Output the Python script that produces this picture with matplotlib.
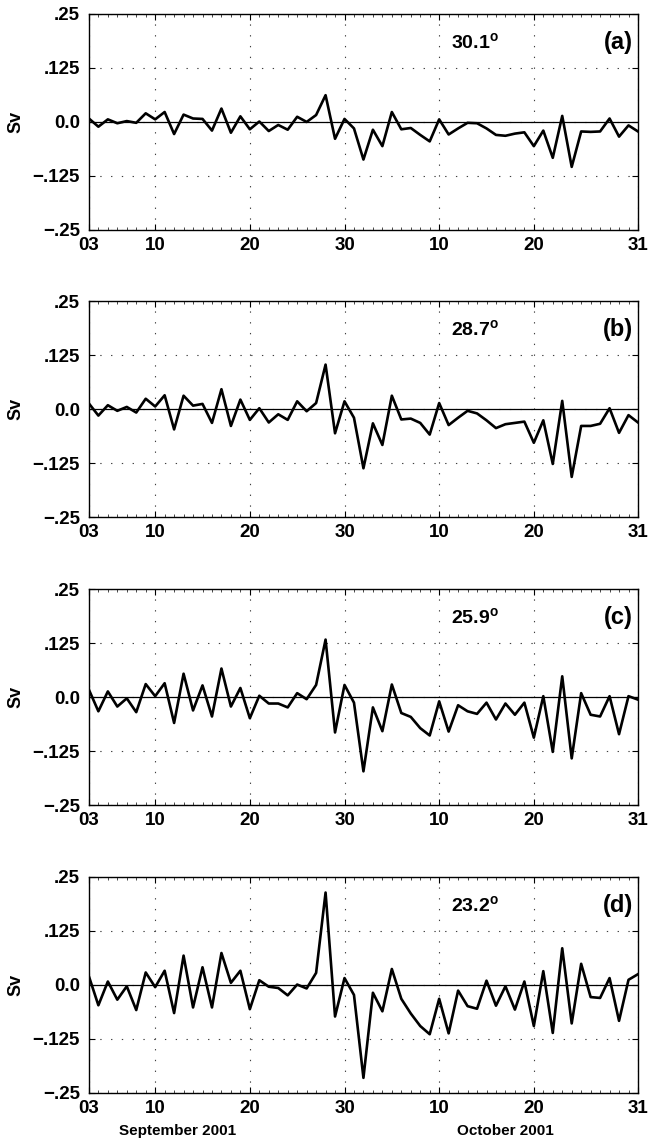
import numpy as np
import matplotlib
matplotlib.use('Agg')
import matplotlib.pyplot as plt
import matplotlib.dates as mdates

# Daily transport, 3 Sep - 31 Oct 2001
days = np.arange('2001-09-03', '2001-11-01', dtype='datetime64[D]')

sv_a = [0.008, -0.011, 0.006, -0.003, 0.002, -0.002, 0.020, 0.006, 0.023, -0.028,
        0.017, 0.008, 0.007, -0.020, 0.031, -0.025, 0.013, -0.017, 0.001, -0.021,
        -0.007, -0.018, 0.012, 0.000, 0.016, 0.062, -0.039, 0.007, -0.015, -0.087,
        -0.018, -0.056, 0.023, -0.017, -0.014, -0.030, -0.045, 0.006, -0.029, -0.015,
        -0.002, -0.003, -0.015, -0.030, -0.032, -0.027, -0.024, -0.056, -0.020, -0.083,
        0.014, -0.104, -0.022, -0.023, -0.022, 0.008, -0.034, -0.008, -0.022]
sv_b = [0.013, -0.015, 0.009, -0.004, 0.005, -0.008, 0.024, 0.006, 0.032, -0.047,
        0.031, 0.008, 0.012, -0.032, 0.046, -0.039, 0.022, -0.025, 0.002, -0.031,
        -0.012, -0.025, 0.018, -0.005, 0.014, 0.103, -0.056, 0.018, -0.020, -0.137,
        -0.033, -0.083, 0.031, -0.024, -0.022, -0.032, -0.059, 0.014, -0.037, -0.020,
        -0.004, -0.010, -0.026, -0.044, -0.035, -0.032, -0.029, -0.078, -0.026, -0.127,
        0.019, -0.157, -0.039, -0.039, -0.034, 0.002, -0.055, -0.014, -0.031]
sv_c = [0.017, -0.033, 0.013, -0.022, -0.003, -0.035, 0.030, 0.002, 0.032, -0.060,
        0.054, -0.031, 0.027, -0.045, 0.066, -0.022, 0.021, -0.049, 0.003, -0.015,
        -0.015, -0.024, 0.009, -0.005, 0.028, 0.133, -0.082, 0.028, -0.013, -0.172,
        -0.024, -0.079, 0.029, -0.037, -0.046, -0.072, -0.089, -0.010, -0.080, -0.019,
        -0.033, -0.039, -0.013, -0.052, -0.015, -0.041, -0.013, -0.094, 0.002, -0.127,
        0.048, -0.142, 0.009, -0.041, -0.045, 0.002, -0.086, 0.002, -0.006]
sv_d = [0.020, -0.047, 0.008, -0.034, -0.003, -0.058, 0.029, -0.005, 0.033, -0.065,
        0.068, -0.052, 0.041, -0.052, 0.074, 0.005, 0.033, -0.056, 0.011, -0.004,
        -0.007, -0.024, 0.001, -0.008, 0.028, 0.214, -0.073, 0.016, -0.023, -0.215,
        -0.018, -0.061, 0.037, -0.032, -0.066, -0.095, -0.114, -0.032, -0.112, -0.013,
        -0.049, -0.055, 0.010, -0.048, -0.003, -0.057, 0.008, -0.095, 0.032, -0.111,
        0.085, -0.089, 0.049, -0.028, -0.030, 0.016, -0.083, 0.012, 0.025]

series = [sv_a, sv_b, sv_c, sv_d]
latitudes = ['30.1', '28.7', '25.9', '23.2']
panel_tags = ['(a)', '(b)', '(c)', '(d)']

y_ticks = [-0.25, -0.125, 0.0, 0.125, 0.25]
y_labels = ['\u2212.25', '\u2212.125', '0.0', '.125', '.25']
x_tick_dates = np.array(['2001-09-03', '2001-09-10', '2001-09-20', '2001-09-30',
                         '2001-10-10', '2001-10-20', '2001-10-31'], dtype='datetime64[D]')
x_labels = ['03', '10', '20', '30', '10', '20', '31']

plt.rcParams['font.family'] = ['Liberation Sans', 'DejaVu Sans']
plt.rcParams['font.weight'] = 'bold'
plt.rcParams['mathtext.fontset'] = 'custom'
plt.rcParams['mathtext.rm'] = 'Liberation Sans:bold'
plt.rcParams['mathtext.bf'] = 'Liberation Sans:bold'

fig = plt.figure(figsize=(6.49, 11.44), dpi=100)

left, width, height = 0.137, 0.846, 0.1888
bottoms = [0.799, 0.548, 0.2963, 0.0446]

for i in range(4):
    ax = fig.add_axes([left, bottoms[i], width, height])
    ax.plot(days, series[i], color='black', lw=1.9, zorder=3)
    ax.axhline(0, color='black', lw=0.9, zorder=2)

    ax.set_xlim(days[0], days[-1])
    ax.set_ylim(-0.25, 0.25)
    ax.set_yticks(y_ticks)
    ax.set_yticklabels(y_labels)
    ax.set_xticks(x_tick_dates)
    ax.set_xticklabels(x_labels)
    ax.xaxis.set_minor_locator(mdates.DayLocator())

    ax.grid(True, which='major', color='0.25', lw=0.8, ls=(0, (1.2, 8.5)))
    ax.tick_params(which='both', direction='in', top=True, right=True)
    ax.tick_params(which='major', length=4, width=0.8, labelsize=13.5)
    ax.tick_params(axis='y', which='major', pad=6.5)
    ax.tick_params(axis='x', which='major', pad=5)
    ax.tick_params(which='minor', length=2, width=0.5)
    for sp in ax.spines.values():
        sp.set_linewidth(1.0)

    ax.set_ylabel('Sv', fontsize=13, fontweight='bold', labelpad=6)
    ax.text(0.659, 0.87, r'$\mathbf{%s^o}$' % latitudes[i], transform=ax.transAxes,
            fontsize=14, ha='left', va='center')
    ax.text(0.991, 0.87, panel_tags[i], transform=ax.transAxes,
            fontsize=17, fontweight='bold', ha='right', va='center')

    if i == 3:
        ax.text(np.datetime64('2001-09-12') + np.timedelta64(10, 'h'), -0.338,
                'September 2001', fontsize=11, fontweight='bold',
                ha='center', va='center')
        ax.text(np.datetime64('2001-10-17'), -0.338, 'October 2001', fontsize=11,
                fontweight='bold', ha='center', va='center')

fig.savefig('out.png', dpi=100)
